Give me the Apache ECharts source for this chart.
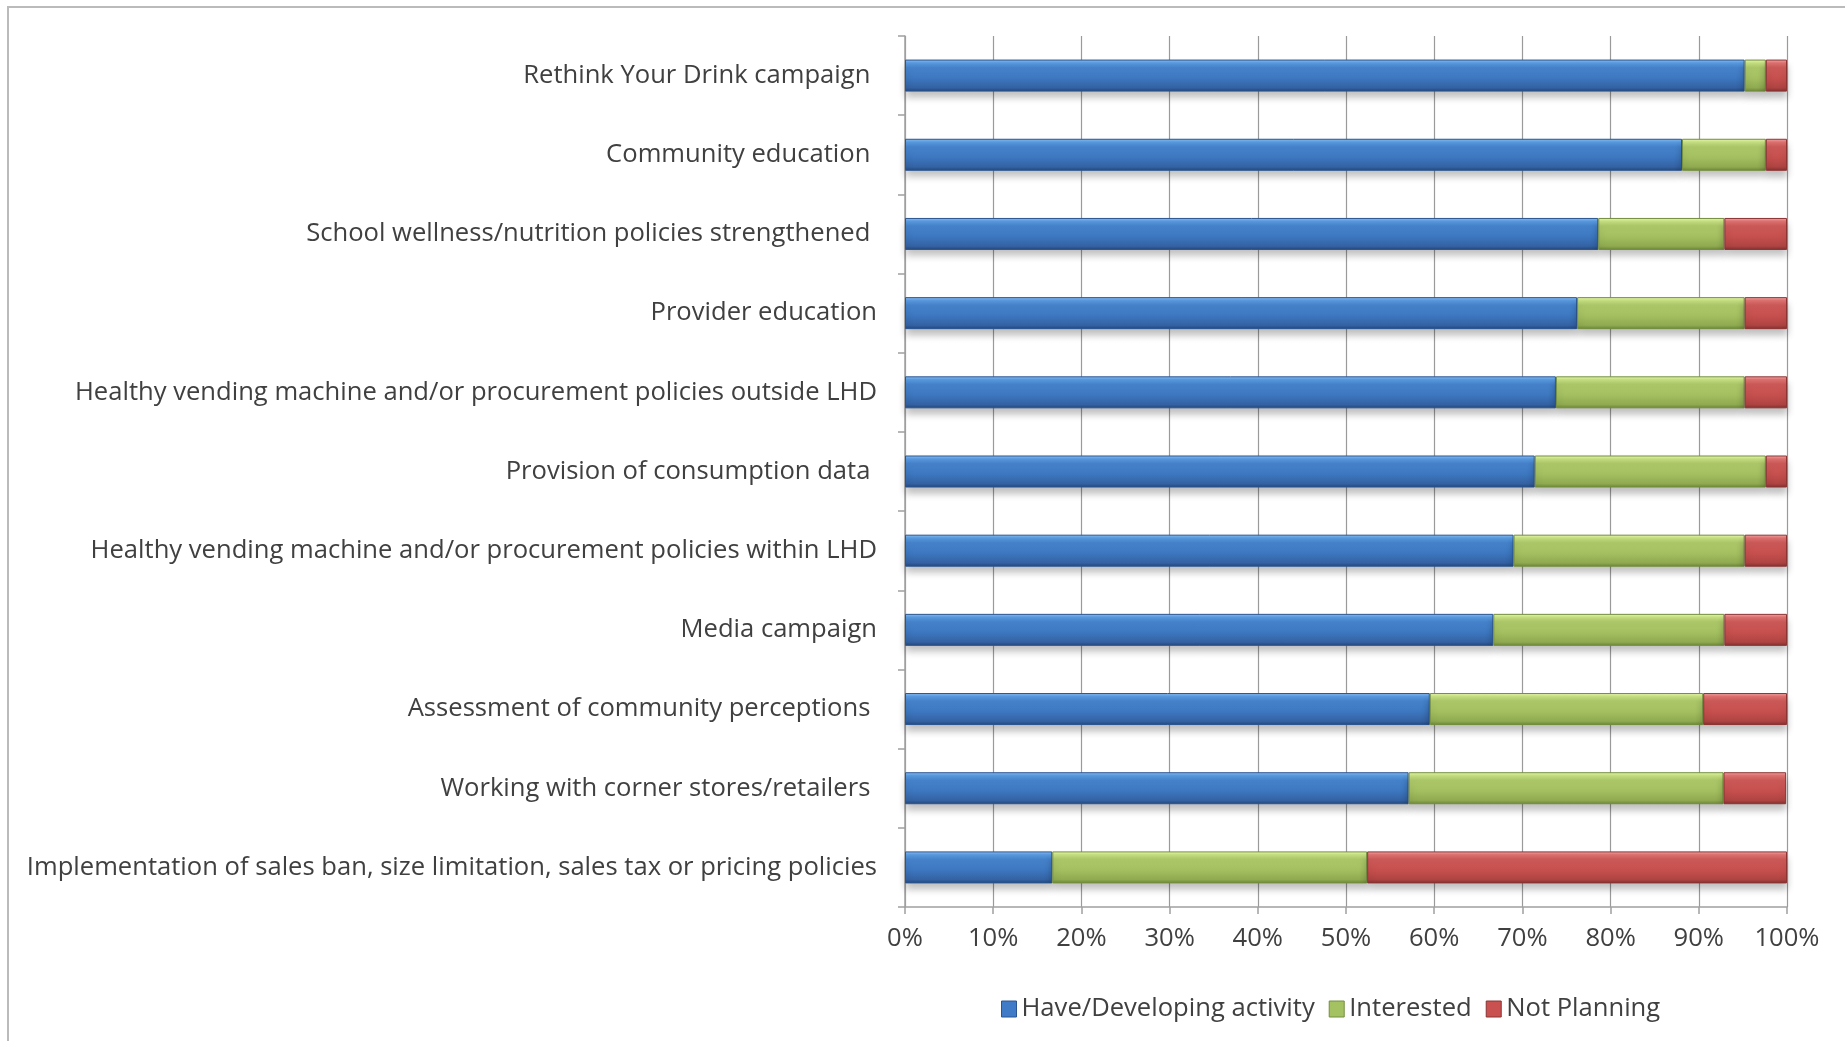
<!DOCTYPE html>
<html>
<head>
<meta charset="utf-8">
<script src="https://cdn.jsdelivr.net/npm/echarts@6/dist/echarts.min.js"></script>
<style>
html,body{margin:0;padding:0;background:#fff;}
#chart{width:1845px;height:1041px;}
</style>
</head>
<body>
<div id="chart"></div>
<script>
const categories = [
  "Rethink Your Drink campaign ",
  "Community education ",
  "School wellness/nutrition policies strengthened ",
  "Provider education",
  "Healthy vending machine and/or procurement policies outside LHD",
  "Provision of consumption data ",
  "Healthy vending machine and/or procurement policies within LHD",
  "Media campaign",
  "Assessment of community perceptions ",
  "Working with corner stores/retailers ",
  "Implementation of sales ban, size limitation, sales tax or pricing policies"
];
const haveDeveloping = [95.2, 88.1, 78.6, 76.2, 73.8, 71.4, 69.0, 66.7, 59.5, 57.1, 16.7];
const interested     = [2.4, 9.5, 14.3, 19.0, 21.4, 26.2, 26.2, 26.2, 31.0, 35.7, 35.7];
const notPlanning    = [2.4, 2.4, 7.1, 4.8, 4.8, 2.4, 4.8, 7.1, 9.5, 7.1, 47.6];
const seriesNames = ["Have/Developing activity", "Interested", "Not Planning"];
const xTicks = [0, 10, 20, 30, 40, 50, 60, 70, 80, 90, 100];

const FONT = "Open Sans";
const TXT = "#404040";
const FS = 25.6;

function grad(stops){
  return new echarts.graphic.LinearGradient(0,0,0,1, stops.map((c)=>({offset:c[0],color:c[1]})));
}
const blueFill = grad([[0,'#8CC2F7'],[0.1,'#5B9CE2'],[0.25,'#4785CF'],[0.6,'#3C76BE'],[0.88,'#3462A3'],[1,'#23477A']]);
const greenFill = grad([[0,'#EAFAAE'],[0.1,'#C8E283'],[0.25,'#AFCB6A'],[0.6,'#A2BE5F'],[0.88,'#8FAA50'],[1,'#6B8537']]);
const redFill = grad([[0,'#F8A9A9'],[0.1,'#E07472'],[0.25,'#CF5B59'],[0.6,'#C54F4D'],[0.88,'#AE4442'],[1,'#80302F']]);

function mkSeries(name, data, fill, border){
  return {
    name: name,
    type: 'bar',
    stack: 'total',
    data: data,
    barWidth: 32,
    itemStyle: {
      color: fill,
      borderColor: border,
      borderWidth: 1,
      shadowColor: 'rgba(0,0,0,0.25)',
      shadowBlur: 7,
      shadowOffsetY: 6
    },
    emphasis: {disabled: true}
  };
}

const chart = echarts.init(document.getElementById('chart'), null, {renderer:'canvas'});
chart.setOption({
  animation: false,
  backgroundColor: '#ffffff',
  graphic: [{
    type: 'rect',
    shape: {x: 8, y: 7, width: 1900, height: 1100},
    style: {fill: 'none', stroke: '#BBBBBB', lineWidth: 2},
    silent: true,
    z: -1
  }],
  grid: {left: 905, right: 58, top: 36, bottom: 134, containLabel: false},
  legend: {
    data: [
      {name: seriesNames[0], itemStyle: {color: '#3F7BC6', borderColor: '#2A5590', borderWidth: 1}},
      {name: seriesNames[1], itemStyle: {color: '#A5C262', borderColor: '#738E3E', borderWidth: 1}},
      {name: seriesNames[2], itemStyle: {color: '#C9514F', borderColor: '#8A3433', borderWidth: 1}}
    ],
    left: 996,
    top: 991,
    icon: 'rect',
    itemWidth: 15,
    itemHeight: 16,
    itemGap: 14,
    textStyle: {fontFamily: FONT, fontSize: FS, color: TXT}
  },
  xAxis: {
    type: 'value',
    min: xTicks[0],
    max: xTicks[xTicks.length-1],
    interval: 10,
    axisLine: {show: true, lineStyle: {color: '#A0A0A0', width: 1.5}},
    axisTick: {show: true, length: 7, lineStyle: {color: '#A0A0A0', width: 1.5}},
    splitLine: {show: true, lineStyle: {color: '#9A9A9A', width: 1.2}},
    axisLabel: {formatter: '{value}%', fontFamily: FONT, fontSize: FS, color: TXT, margin: 19}
  },
  yAxis: {
    type: 'category',
    inverse: true,
    data: categories,
    axisLine: {show: true, lineStyle: {color: '#A0A0A0', width: 1.5}},
    axisTick: {show: true, length: 7, inside: false, lineStyle: {color: '#A0A0A0', width: 1.5}},
    splitLine: {show: false},
    axisLabel: {fontFamily: FONT, fontSize: FS, color: TXT, margin: 28}
  },
  series: [
    mkSeries(seriesNames[0], haveDeveloping, blueFill, '#2A5590'),
    mkSeries(seriesNames[1], interested, greenFill, '#738E3E'),
    mkSeries(seriesNames[2], notPlanning, redFill, '#8A3433')
  ]
});
</script>
</body>
</html>
